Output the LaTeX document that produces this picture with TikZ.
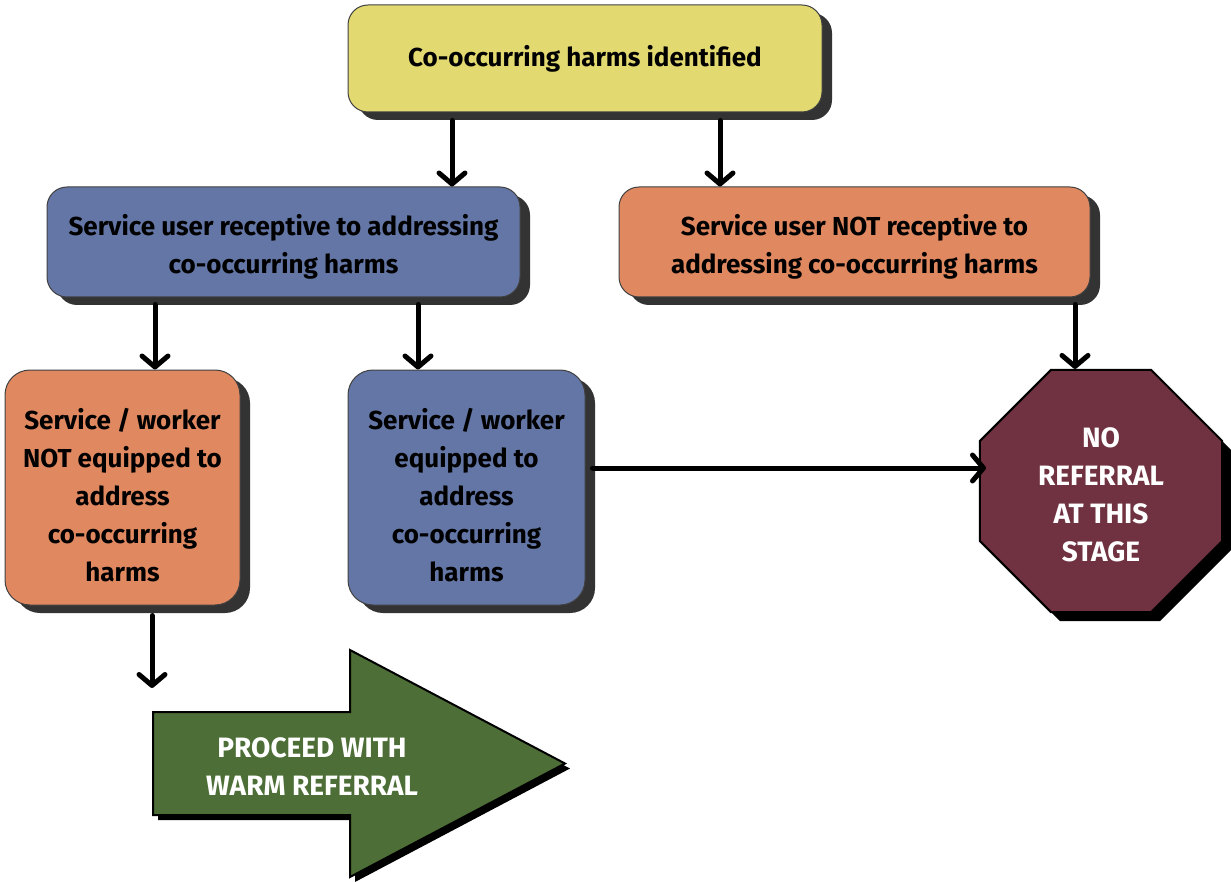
\documentclass[tikz,border=0pt]{standalone}
\usepackage{fontspec}
\setmainfont{Fira Sans}
\usetikzlibrary{positioning, calc, shapes.geometric, arrows.meta, shadows}
\definecolor{harmYellow}{RGB}{226, 217, 112}
\definecolor{harmBlue}{RGB}{99, 118, 165}
\definecolor{harmOrange}{RGB}{224, 136, 96}
\definecolor{harmMaroon}{RGB}{112, 49, 64}
\definecolor{harmGreen}{RGB}{77, 110, 54}
\definecolor{harmShadow}{RGB}{51, 51, 51}

\begin{document}
\begin{tikzpicture}[
    x=1pt, y=-1pt,
    stepbox/.style={rectangle, draw=black!75, line width=1pt, rounded corners=20pt,
                    align=center, inner sep=0pt, font=\fontsize{26}{38}\selectfont\bfseries,
                    drop shadow={shadow xshift=10pt, shadow yshift=-8pt, fill=harmShadow, opacity=1}},
    stopsign/.style={regular polygon, regular polygon sides=8,
                    minimum size=262pt, inner sep=0pt, draw=black, line width=2pt,
                    fill=harmMaroon, text=white, align=center, text height=141.5pt,
                    font=\fontsize{28}{38}\selectfont\bfseries,
                    drop shadow={shadow xshift=9pt, shadow yshift=-9pt, fill=black, opacity=1}},
    arrow/.style={-{Straight Barb[length=11pt, width=26pt, round]}, line width=5pt, line cap=round},
  ]
    \useasboundingbox (0,0) rectangle (1231,882);

    \node[stepbox, fill=harmYellow, minimum width=474pt, minimum height=107pt] (harms) at (585,58.5)
         {Co-occurring harms identified};
    \node[stepbox, fill=harmBlue, minimum width=473pt, minimum height=110pt, text height=69pt]
         (receptive) at (283.5,242)
         {Service user receptive to addressing\\co-occurring harms};
    \node[stepbox, fill=harmOrange, minimum width=471pt, minimum height=110pt, text height=69pt]
         (notreceptive) at (854.5,242)
         {Service user NOT receptive to\\addressing co-occurring harms};
    \node[stepbox, fill=harmOrange, minimum width=235pt, minimum height=235pt, rounded corners=25pt,
          text height=189pt] (notequipped) at (122.5,487.5)
         {Service / worker\\NOT equipped to\\address\\co-occurring\\harms};
    \node[stepbox, fill=harmBlue, minimum width=237pt, minimum height=235pt, rounded corners=25pt,
          text height=189pt] (equipped) at (466.5,487.5)
         {Service / worker\\equipped to\\address\\co-occurring\\harms};
    \node[stopsign] (noreferral) at (1101,491) {NO\\REFERRAL\\AT THIS\\STAGE};

    % green arrow
    \filldraw[fill=harmGreen, draw=black, line width=2pt,
              drop shadow={shadow xshift=5pt, shadow yshift=-5pt, fill=black, opacity=1}]
      (153,712) -- (350,712) -- (350,650) -- (565,763.5) -- (350,877) -- (350,815) -- (153,815) -- cycle;
    \node[text=white, align=center, font=\fontsize{28}{38}\selectfont\bfseries] (warmreferral) at (312,767)
         {PROCEED WITH\\WARM REFERRAL};
    \coordinate (warmtop) at (152,688);

    \draw[arrow] ([xshift=-133pt,yshift=-8pt]harms.south) -- ([xshift=-133pt]harms.south |- receptive.north);
    \draw[arrow] ([xshift=135pt,yshift=-8pt]harms.south) -- ([xshift=135pt]harms.south |- notreceptive.north);
    \draw[arrow] ([xshift=-128.5pt,yshift=-7pt]receptive.south) -- ([xshift=-128.5pt]receptive.south |- notequipped.north);
    \draw[arrow] ([xshift=134.5pt,yshift=-7pt]receptive.south) -- ([xshift=134.5pt]receptive.south |- equipped.north);
    \draw[arrow] ([xshift=220.5pt,yshift=-7pt]notreceptive.south) -- ([xshift=220.5pt]notreceptive.south |- noreferral.north);
    \draw[arrow] ([xshift=7pt,yshift=19.5pt]equipped.east) -- ([xshift=7pt,yshift=19.5pt]equipped.east -| noreferral.west);
    \draw[arrow] ([xshift=29.5pt,yshift=-10pt]notequipped.south) -- (warmtop);
\end{tikzpicture}
\end{document}
